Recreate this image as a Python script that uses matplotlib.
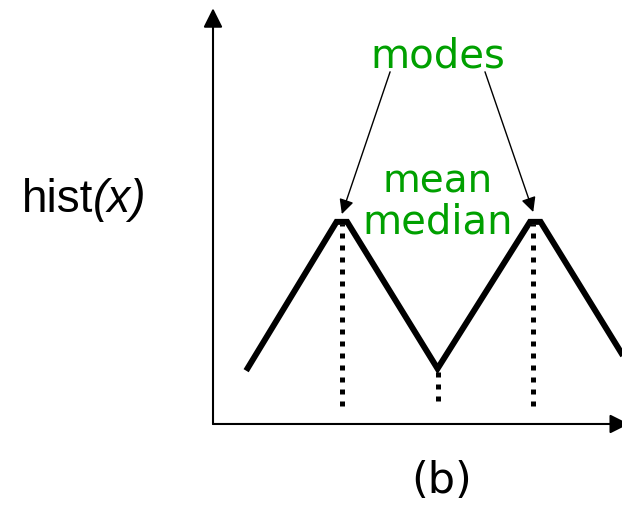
import matplotlib
matplotlib.use("Agg")
import matplotlib.pyplot as plt

# bimodal histogram outline (arbitrary units)
hist_x = [0.81, 3.02, 3.28, 5.49, 7.75, 8.01, 10.22]
hist_y = [1.30, 4.93, 4.93, 1.35, 4.93, 4.93, 1.35]

# positions of the statistics on x
mode_x = [3.15, 7.83]
median_x = 5.49
dot_bottom = [0.44, 0.57]  # lower ends of the dotted lines (modes, median)

green = '#00a000'

fig = plt.figure(figsize=(6.22, 5.06), dpi=100)
ax = fig.add_axes([0, 0, 1, 1])
ax.set_xlim(-5.208, 10.0)
ax.set_ylim(-1.976, 10.366)
ax.axis('off')

# axes with arrow heads
ax.annotate('', xy=(0, 10.14), xytext=(0, 0),
            arrowprops=dict(arrowstyle='-|>', lw=1.5, color='black',
                            mutation_scale=29, shrinkA=0, shrinkB=0))
ax.annotate('', xy=(10.17, 0), xytext=(0, 0), annotation_clip=False,
            arrowprops=dict(arrowstyle='-|>', lw=1.5, color='black',
                            mutation_scale=29, shrinkA=0, shrinkB=0))

# histogram shape
ax.plot(hist_x, hist_y, color='black', lw=4.3,
        solid_joinstyle='miter', solid_capstyle='butt', clip_on=False)

# dotted lines for modes and median
for mx in mode_x:
    ax.plot([mx, mx], [dot_bottom[0], hist_y[1] - 0.05], color='black',
            lw=3.6, linestyle=(0, (1, 1.4)))
ax.plot([median_x, median_x], [dot_bottom[1], hist_y[3]], color='black',
        lw=3.6, linestyle=(0, (1, 1.4)))

# labels
ax.text(5.5, 8.73, 'modes', color=green, fontsize=29,
        ha='center', va='baseline', family='DejaVu Sans')
ax.text(5.5, 5.66, 'mean', color=green, fontsize=28,
        ha='center', va='baseline', family='DejaVu Sans')
ax.text(5.5, 4.68, 'median', color=green, fontsize=29,
        ha='center', va='baseline', family='DejaVu Sans')

ax.annotate('', xy=(mode_x[0], 5.12), xytext=(4.33, 8.59),
            arrowprops=dict(arrowstyle='-|>', lw=1.0, color='black',
                            mutation_scale=22, shrinkA=0, shrinkB=0))
ax.annotate('', xy=(mode_x[1], 5.17), xytext=(6.65, 8.59),
            arrowprops=dict(arrowstyle='-|>', lw=1.0, color='black',
                            mutation_scale=22, shrinkA=0, shrinkB=0))

ax.text(-2.93, 5.2, 'hist', fontsize=33, ha='right', va='baseline',
        family='Liberation Sans')
ax.text(-2.93, 5.2, '(x)', fontsize=33, ha='left', va='baseline',
        family='Liberation Sans', style='italic')

ax.text(5.6, -1.37, '(b)', fontsize=31, ha='center', va='center',
        family='DejaVu Sans')

fig.savefig('out.png', dpi=100)
